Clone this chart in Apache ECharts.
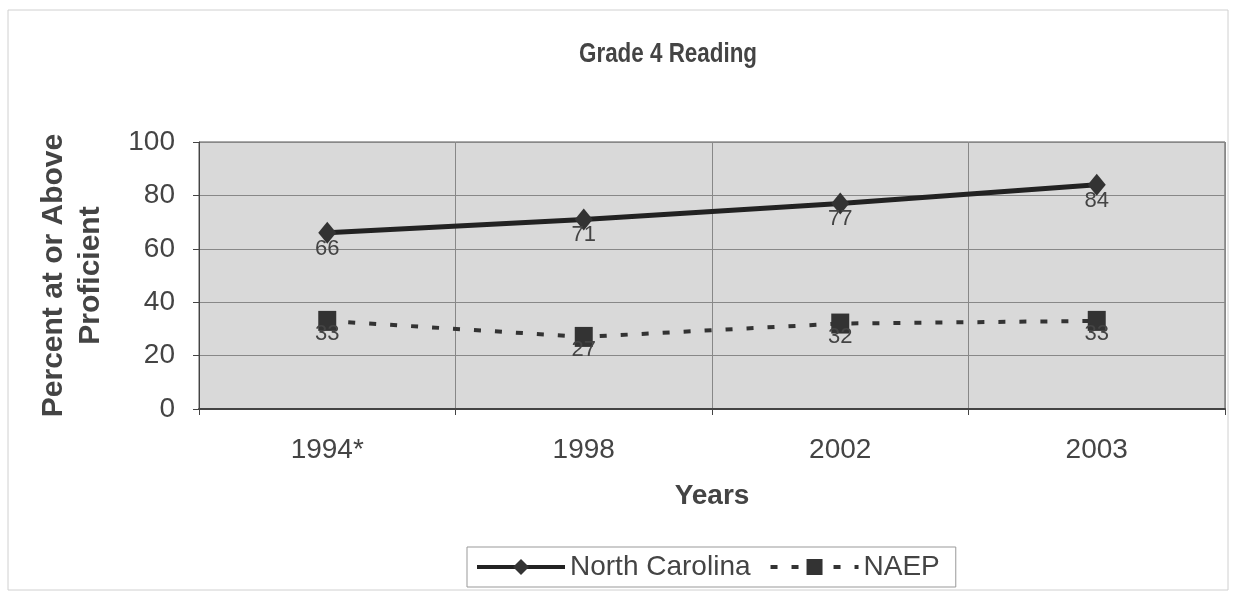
<!DOCTYPE html>
<html>
<head>
<meta charset="utf-8">
<script src="https://cdn.jsdelivr.net/npm/echarts@6/dist/echarts.min.js"></script>
<style>html,body{margin:0;padding:0;background:#fff;}#c{width:1233px;height:595px;}</style>
</head>
<body>
<div id="c"></div>
<script>
const years = ['1994*', '1998', '2002', '2003'];
const northCarolina = [66, 71, 77, 84];
const naep = [33, 27, 32, 33];
const yTicks = { min: 0, max: 100, interval: 20 };
const titleText = 'Grade 4 Reading';

const chart = echarts.init(document.getElementById('c'));
const font = 'Liberation Sans, Arial, sans-serif';
chart.setOption({
  animation: false,
  backgroundColor: '#ffffff',
  graphic: [
    {
      type: 'rect', shape: { x: 8, y: 10, width: 1220, height: 580 },
      style: { fill: 'none', stroke: '#d0d0d0', lineWidth: 1 }, z: -1
    },
    {
      type: 'text', x: 668, y: 54, scaleX: 0.8,
      style: {
        text: titleText, fill: '#444', align: 'center', verticalAlign: 'middle',
        font: 'bold 28px Liberation Sans, Arial, sans-serif'
      }
    }
  ],
  legend: {
    top: 547, left: 467, itemWidth: 88, itemHeight: 20, itemGap: 18,
    padding: [6, 16, 6, 8],
    borderColor: '#999', borderWidth: 1,
    textStyle: { fontFamily: font, fontSize: 28, color: '#444' },
    data: [
      { name: 'North Carolina', lineStyle: { width: 4 } },
      { name: 'NAEP', lineStyle: { width: 4 } }
    ]
  },
  grid: { left: 199, right: 8, top: 142, bottom: 186, show: true, backgroundColor: '#d9d9d9', borderColor: '#555', borderWidth: 1 },
  xAxis: {
    type: 'category', data: years, boundaryGap: true,
    name: 'Years', nameLocation: 'middle', nameGap: 73,
    nameTextStyle: { fontFamily: font, fontSize: 28, fontWeight: 'bold', color: '#444' },
    axisLine: { lineStyle: { color: '#444', width: 2 } },
    axisTick: { show: true, length: 6, lineStyle: { color: '#444' } },
    axisLabel: { fontFamily: font, fontSize: 28, color: '#444', margin: 27 },
    splitLine: { show: true, lineStyle: { color: '#888', width: 1 } }
  },
  yAxis: {
    type: 'value', min: yTicks.min, max: yTicks.max, interval: yTicks.interval,
    name: 'Percent at or Above\nProficient', nameLocation: 'middle', nameGap: 90,
    nameTextStyle: { fontFamily: font, fontSize: 30, fontWeight: 'bold', color: '#444', lineHeight: 37 },
    axisLine: { show: true, lineStyle: { color: '#444', width: 1 } },
    axisTick: { show: true, length: 6, lineStyle: { color: '#444' } },
    axisLabel: { fontFamily: font, fontSize: 28, color: '#444', margin: 24 },
    splitLine: { show: true, lineStyle: { color: '#888', width: 1 } }
  },
  series: [
    {
      name: 'North Carolina', type: 'line', data: northCarolina,
      symbol: 'diamond', symbolSize: [18, 22],
      lineStyle: { color: '#222', width: 5 },
      itemStyle: { color: '#333' },
      label: { show: true, position: 'bottom', distance: -6, fontFamily: font, fontSize: 22, color: '#444' }
    },
    {
      name: 'NAEP', type: 'line', data: naep,
      symbol: 'rect', symbolSize: [18, 20],
      lineStyle: { color: '#333', width: 4, type: [7, 14] },
      itemStyle: { color: '#333' },
      label: { show: true, position: 'bottom', distance: -8, fontFamily: font, fontSize: 22, color: '#444' }
    }
  ]
});
</script>
</body>
</html>
